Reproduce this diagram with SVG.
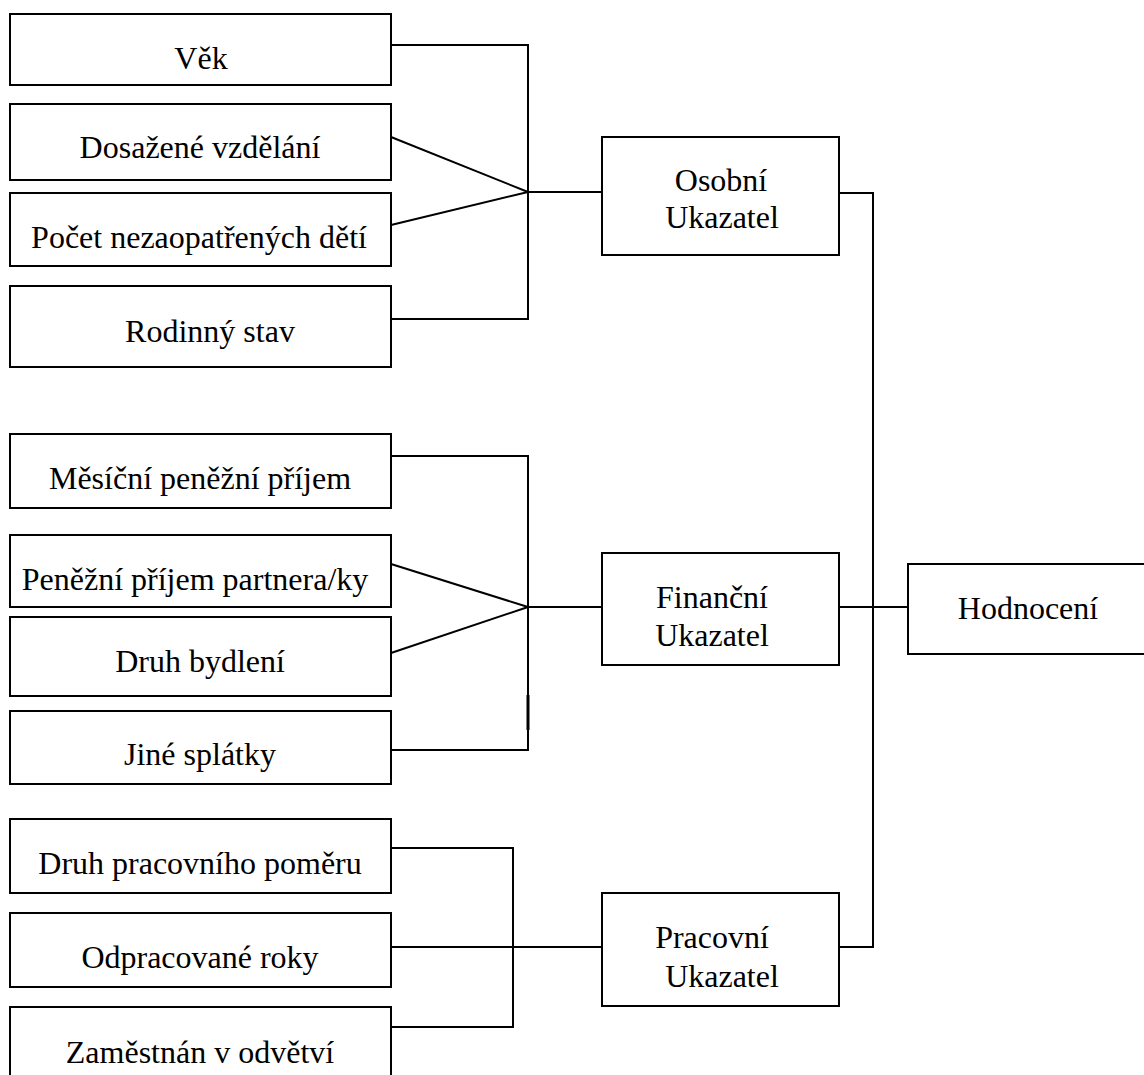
<svg xmlns="http://www.w3.org/2000/svg" width="1144" height="1075" viewBox="0 0 1144 1075">
<style>
rect.box{fill:#fff;stroke:#000;stroke-width:2}
text{font-family:"Liberation Serif","Times New Roman",serif;font-size:32px;fill:#000;text-anchor:middle}
#connectors line,#connectors polyline{fill:none;stroke:#000;stroke-width:2}
</style>
<rect width="1144" height="1075" fill="#fff"/>
<g id="connectors">
<polyline points="391,45 528,45 528,319 391,319"/>
<line x1="391" y1="137" x2="528" y2="192"/>
<line x1="391" y1="225" x2="528" y2="192"/>
<line x1="528" y1="192" x2="602" y2="192"/>
<polyline points="839,193 873,193 873,947 839,947"/>
<polyline points="391,456 528,456 528,750 391,750"/>
<line x1="528" y1="695" x2="528" y2="730" style="stroke-width:3"/>
<line x1="391" y1="564" x2="528" y2="607"/>
<line x1="391" y1="653" x2="528" y2="607"/>
<line x1="528" y1="607" x2="602" y2="607"/>
<line x1="839" y1="607" x2="908" y2="607"/>
<polyline points="391,848 513,848 513,1027 391,1027"/>
<line x1="391" y1="947" x2="602" y2="947"/>
</g>
<g id="vek"><rect class="box" x="10" y="14" width="381" height="71"/><text x="201" y="69">Věk</text></g>
<g id="vzdelani"><rect class="box" x="10" y="104" width="381" height="76"/><text x="200" y="158">Dosažené vzdělání</text></g>
<g id="deti"><rect class="box" x="10" y="193" width="381" height="73"/><text x="199" y="248">Počet nezaopatřených dětí</text></g>
<g id="stav"><rect class="box" x="10" y="286" width="381" height="81"/><text x="210" y="342">Rodinný stav</text></g>
<g id="prijem"><rect class="box" x="10" y="434" width="381" height="74"/><text x="200" y="489">Měsíční peněžní příjem</text></g>
<g id="partner"><rect class="box" x="10" y="535" width="381" height="72"/><text x="195" y="590">Peněžní příjem partnera/ky</text></g>
<g id="bydleni"><rect class="box" x="10" y="617" width="381" height="79"/><text x="200" y="672">Druh bydlení</text></g>
<g id="splatky"><rect class="box" x="10" y="711" width="381" height="73"/><text x="200" y="765">Jiné splátky</text></g>
<g id="pomer"><rect class="box" x="10" y="819" width="381" height="74"/><text x="200" y="874">Druh pracovního poměru</text></g>
<g id="roky"><rect class="box" x="10" y="913" width="381" height="74"/><text x="200" y="968">Odpracované roky</text></g>
<g id="odvetvi"><rect class="box" x="10" y="1007" width="381" height="80"/><text x="200" y="1063">Zaměstnán v odvětví</text></g>
<g id="osobni"><rect class="box" x="602" y="137" width="237" height="118"/><text x="721" y="191">Osobní</text><text x="722" y="228">Ukazatel</text></g>
<g id="financni"><rect class="box" x="602" y="553" width="237" height="112"/><text x="712" y="608">Finanční</text><text x="712" y="646">Ukazatel</text></g>
<g id="pracovni"><rect class="box" x="602" y="893" width="237" height="113"/><text x="712" y="948">Pracovní</text><text x="722" y="987">Ukazatel</text></g>
<g id="hodnoceni"><rect class="box" x="908" y="564" width="250" height="90"/><text x="1028" y="619">Hodnocení</text></g>
</svg>
